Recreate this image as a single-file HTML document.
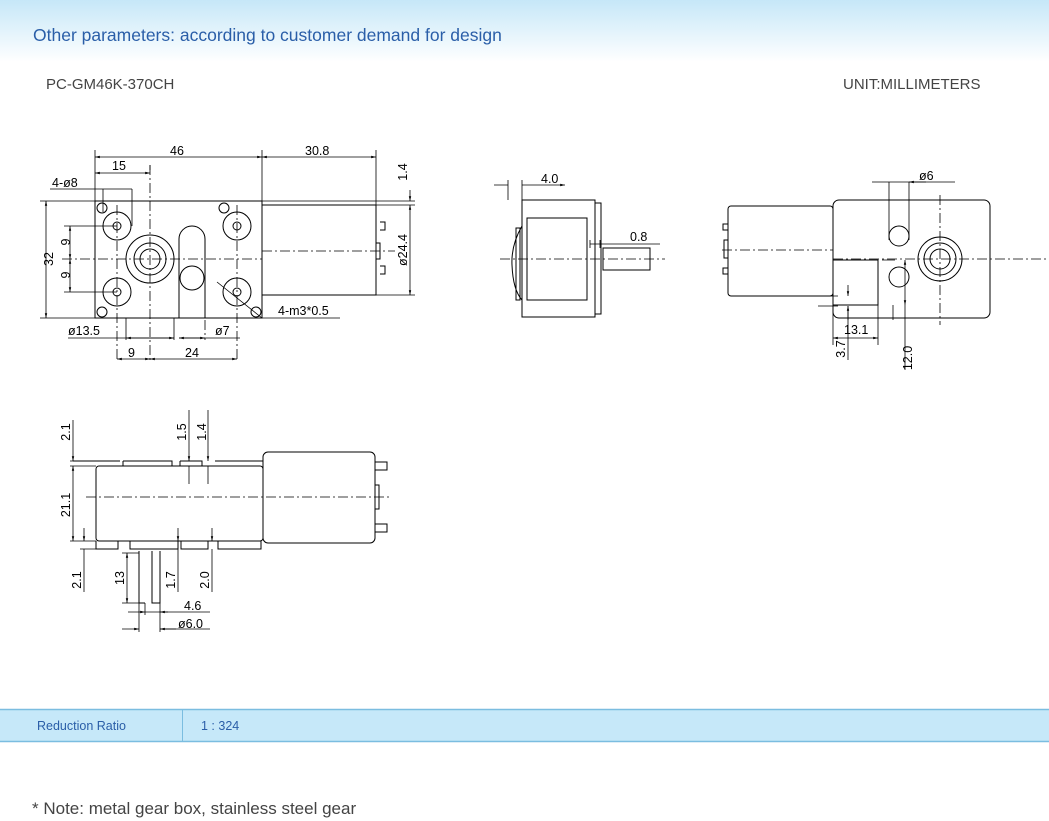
<!DOCTYPE html>
<html><head><meta charset="utf-8"><style>
html,body{margin:0;padding:0;background:#fff;width:1049px;height:821px;overflow:hidden;font-family:"Liberation Sans",sans-serif}
</style></head><body>
<svg width="1049" height="821" viewBox="0 0 1049 821" xmlns="http://www.w3.org/2000/svg" font-family="Liberation Sans, sans-serif">
<defs>
<linearGradient id="hg" x1="0" y1="0" x2="0" y2="1"><stop offset="0" stop-color="#c6e7f8"/><stop offset="1" stop-color="#ffffff"/></linearGradient>
<marker id="a" viewBox="0 0 6 6" refX="6" refY="3" markerWidth="6" markerHeight="6" orient="auto-start-reverse"><path d="M0,1.5L6,3L0,4.5z" fill="#000"/></marker>
</defs>
<rect x="0" y="0" width="1049" height="62" fill="url(#hg)"/>
<text x="33" y="41" font-size="17.5" fill="#2a5ea8">Other parameters: according to customer demand for design</text>
<text x="46" y="89" font-size="15" fill="#444">PC-GM46K-370CH</text>
<text x="843" y="89" font-size="15" fill="#444">UNIT:MILLIMETERS</text>

<g stroke="#000" stroke-width="1" fill="none">
<path d="M95,201 H262 V318 H95 Z"/>
<path d="M262,205 H376 V295 H262"/>
<g>
<circle cx="117" cy="226" r="14"/><circle cx="117" cy="226" r="4"/>
<circle cx="237" cy="226" r="14"/><circle cx="237" cy="226" r="4"/>
<circle cx="117" cy="292" r="14"/><circle cx="117" cy="292" r="4"/>
<circle cx="237" cy="292" r="14"/><circle cx="237" cy="292" r="4"/>
<circle cx="150" cy="259" r="24"/><circle cx="150" cy="259" r="16"/><circle cx="150" cy="259" r="10"/>
<path d="M179,239 A13,13 0 0 1 205,239 V318 M179,239 V318"/>
<circle cx="192" cy="278" r="12"/>
<circle cx="102" cy="208" r="5"/><circle cx="224" cy="208" r="5"/><circle cx="102" cy="312" r="5"/><circle cx="256" cy="312" r="5"/>
<path d="M380,222 h5 v8 h-5 M380,266 h5 v8 h-5 M376,243 h4 v16 h-4"/>
</g>
<g stroke-dasharray="10,3,2,3" stroke-width="0.8">
<path d="M62,259 H262 M262,251 H395 M150,165 V360 M117,205 V360 M237,205 V360 M205,320 V340"/>
</g>
<g stroke-width="0.8">
<path d="M95,150 V201 M262,150 V201 M376,150 V205 M150,165 V170"/>
<path d="M95,157 H262" marker-start="url(#a)" marker-end="url(#a)"/>
<path d="M262,157 H376" marker-start="url(#a)" marker-end="url(#a)"/>
<path d="M95,173 H150" marker-start="url(#a)" marker-end="url(#a)"/>
<path d="M50,189 H132 M103,189 V212 M132,189 V226"/>
<path d="M40,201 H95 M40,318 H95"/>
<path d="M46,201 V318" marker-start="url(#a)" marker-end="url(#a)"/>
<path d="M64,226 H117 M64,292 H117"/>
<path d="M70,226 V259" marker-start="url(#a)" marker-end="url(#a)"/>
<path d="M70,259 V292" marker-start="url(#a)" marker-end="url(#a)"/>
<path d="M262,201 H415 M376,205 H415 M376,295 H415"/>
<path d="M410,190 V201" marker-end="url(#a)"/><path d="M410,205 V295" marker-start="url(#a)" marker-end="url(#a)"/>
<path d="M126,318 V340 M174,318 V340"/>
<path d="M68,338 H174"/><path d="M126,338 H174" marker-start="url(#a)" marker-end="url(#a)"/>
<path d="M179,338 H240"/><path d="M179,338 H205" marker-start="url(#a)" marker-end="url(#a)"/>
<path d="M117,359 H150" marker-start="url(#a)" marker-end="url(#a)"/>
<path d="M150,359 H237" marker-start="url(#a)" marker-end="url(#a)"/>
<path d="M217,282 L262,318 H340"/>
</g>
<rect x="522" y="200" width="73" height="117"/>
<rect x="527" y="218" width="60" height="82"/>
<path d="M595,203 h6 v111 h-6 M603,248 H650 V270 H603 Z"/>
<path d="M522,226 Q511,245 512,265 Q513,290 522,300"/>
<path d="M516,228 h4 v72 h-4 z"/>
<path d="M508,180 V200 M522,180 V200 M590,240 V248 M600,240 V248" stroke-width="0.8"/>
<path d="M494,185 H508 M522,185 H565" stroke-width="0.8" marker-end="url(#a)"/>
<path d="M590,244 H660" stroke-width="0.8"/>
<path d="M500,259 H665" stroke-dasharray="10,3,2,3" stroke-width="0.8"/>
<rect x="728" y="206" width="105" height="90" rx="3"/>
<rect x="833" y="200" width="157" height="118" rx="6"/>
<rect x="833" y="260" width="45" height="45"/>
<circle cx="940" cy="259" r="22"/><circle cx="940" cy="259" r="16"/><circle cx="940" cy="259" r="10"/>
<circle cx="899" cy="236" r="10"/><circle cx="899" cy="277" r="10"/>
<path d="M728,224 h-5 v6 h5 M728,268 h-5 v6 h5 M728,240 h-4 v18 h4"/>
<g stroke-width="0.8">
<path d="M722,250 H833 M833,259 H1049 M940,195 V325" stroke-dasharray="10,3,2,3"/>
<path d="M889,182 V240 M909,182 V240"/>
<path d="M872,182 H889 M926,182 H909" marker-end="url(#a)"/><path d="M889,182 H955"/>
<path d="M833,305 V345 M878,305 V345 M818,296 H838 M818,306 H838 M893,305 V320 M882,260 H895"/>
<path d="M833,338 H878" marker-start="url(#a)" marker-end="url(#a)"/>
<path d="M848,285 V296" marker-end="url(#a)"/><path d="M848,320 V306" marker-end="url(#a)"/><path d="M848,306 V360"/>
<path d="M905,260 V305" marker-start="url(#a)" marker-end="url(#a)"/><path d="M905,305 V370"/>
</g>
<rect x="96" y="466" width="167" height="75" rx="3"/>
<rect x="263" y="452" width="112" height="91" rx="5"/>
<path d="M73,461 H120 M123,461 H172 V466 M123,461 V466 M180,461 H202 V466 M180,461 V466 M215,461 H263"/>
<path d="M96,541 V549 h22 v-8 M130,541 v8 h48 v-8 M181,541 v8 h27 v-8 M218,541 v8 h43 v-8"/>
<path d="M139,551 V603 H145 M152,551 V603 H160 V551"/>
<path d="M375,462 h12 v8 h-12 M375,524 h12 v8 h-12 M375,485 h4 v24 h-4"/>
<path d="M86,497 H392" stroke-dasharray="10,3,2,3" stroke-width="0.8"/>
<g stroke-width="0.8">
<path d="M70,461 H96 M70,466 H96 M70,541 H96 M80,549 H118 M122,553 H139 M122,603 H139"/>
<path d="M73,420 V461" marker-end="url(#a)"/><path d="M73,466 V541" marker-start="url(#a)" marker-end="url(#a)"/>
<path d="M84,528 V541" marker-end="url(#a)"/><path d="M84,549 V592"/>
<path d="M127,553 V603" marker-start="url(#a)" marker-end="url(#a)"/>
<path d="M189,410 V461" marker-end="url(#a)"/><path d="M189,466 V484"/>
<path d="M208,410 V461" marker-end="url(#a)"/><path d="M208,466 V484"/>
<path d="M178,528 V541" marker-end="url(#a)"/><path d="M178,549 V592"/>
<path d="M212,528 V541" marker-end="url(#a)"/><path d="M212,549 V592"/>
<path d="M145,603 V615 M160,603 V632 M139,603 V632"/>
<path d="M128,612 H145" marker-end="url(#a)"/><path d="M168,612 H160" marker-end="url(#a)"/><path d="M145,612 H210"/>
<path d="M122,629 H139" marker-end="url(#a)"/><path d="M176,629 H160" marker-end="url(#a)"/><path d="M160,629 H210"/>
</g>
</g>
<g font-size="12.5" fill="#000">
<text x="170" y="155">46</text><text x="305" y="155">30.8</text>
<text x="112" y="170">15</text><text x="52" y="187">4-ø8</text>
<text x="44" y="268" transform="rotate(-90 44 259)" text-anchor="middle">32</text>
<text x="66" y="246" transform="rotate(-90 66 242)" text-anchor="middle">9</text>
<text x="66" y="279" transform="rotate(-90 66 275)" text-anchor="middle">9</text>
<text x="407" y="172" transform="rotate(-90 407 172)" text-anchor="middle">1.4</text>
<text x="407" y="250" transform="rotate(-90 407 250)" text-anchor="middle">ø24.4</text>
<text x="278" y="315">4-m3*0.5</text>
<text x="68" y="335">ø13.5</text><text x="215" y="335">ø7</text>
<text x="128" y="357">9</text><text x="185" y="357">24</text>
<text x="541" y="183">4.0</text><text x="630" y="241">0.8</text>
<text x="919" y="180">ø6</text><text x="844" y="334">13.1</text>
<text x="845" y="349" transform="rotate(-90 845 349)" text-anchor="middle">3.7</text>
<text x="912" y="358" transform="rotate(-90 912 358)" text-anchor="middle">12.0</text>
<text x="70" y="432" transform="rotate(-90 70 432)" text-anchor="middle">2.1</text>
<text x="70" y="505" transform="rotate(-90 70 505)" text-anchor="middle">21.1</text>
<text x="81" y="580" transform="rotate(-90 81 580)" text-anchor="middle">2.1</text>
<text x="124" y="578" transform="rotate(-90 124 578)" text-anchor="middle">13</text>
<text x="186" y="432" transform="rotate(-90 186 432)" text-anchor="middle">1.5</text>
<text x="206" y="432" transform="rotate(-90 206 432)" text-anchor="middle">1.4</text>
<text x="175" y="580" transform="rotate(-90 175 580)" text-anchor="middle">1.7</text>
<text x="209" y="580" transform="rotate(-90 209 580)" text-anchor="middle">2.0</text>
<text x="184" y="610">4.6</text><text x="178" y="628">ø6.0</text>
</g>
<rect x="0" y="709" width="1049" height="33" fill="#c6e8f9"/>
<path d="M0,709.5 H1049 M0,741.5 H1049" stroke="#7bbde0" stroke-width="1.5"/>
<path d="M182.5,709 V742" stroke="#7bbde0"/>
<text x="37" y="730" font-size="12.5" fill="#2a5ea8">Reduction Ratio</text>
<text x="201" y="730" font-size="12.5" fill="#2a5ea8">1 : 324</text>
<text x="32" y="814" font-size="17" fill="#444">* Note: metal gear box, stainless steel gear</text>
</svg>
</body></html>
